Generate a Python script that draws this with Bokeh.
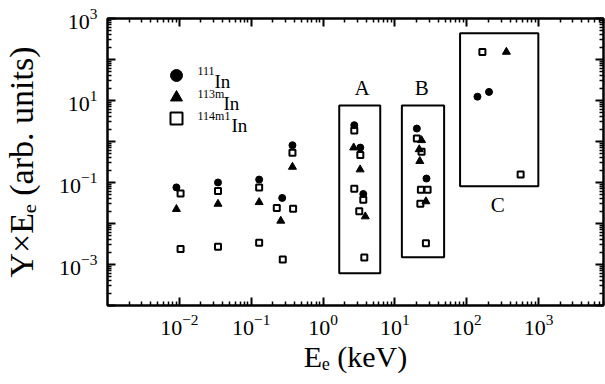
from bokeh.plotting import figure
from bokeh.models import (LogAxis, FixedTicker, Legend, LegendItem, Label, Range1d,
                          ColumnDataSource)
from bokeh.core.properties import value
from bokeh.embed import file_html
from bokeh.resources import INLINE

# ---------------- data ----------------
in111_x = [0.0091, 0.0345, 0.129, 0.27, 0.375, 2.72, 3.30, 3.63, 20.2, 27.5, 141, 204]
in111_y = [0.076, 0.10, 0.118, 0.042, 0.81, 2.50, 0.71, 0.0525, 2.07, 0.125, 12.4, 16.2]

in113m_x = [0.0091, 0.0345, 0.129, 0.258, 0.375, 2.67, 3.28, 3.87, 23.5, 21.8, 22.2, 27.0, 356]
in113m_y = [0.0224, 0.030, 0.033, 0.0116, 0.24, 0.71, 0.207, 0.0148, 1.07, 0.643, 0.332, 0.0345, 153]

in114m1_x = [0.0104, 0.0104, 0.0345, 0.0345, 0.129, 0.129, 0.227, 0.383, 0.275, 0.375,
             2.72, 3.30, 2.72, 3.63, 3.19, 3.75,
             20.2, 23.5, 23.0, 28.5, 22.6, 27.0,
             165, 562]
in114m1_y = [0.054, 0.0024, 0.062, 0.0027, 0.075, 0.0034, 0.024, 0.023, 0.00133, 0.53,
             1.85, 0.466, 0.0708, 0.038, 0.020, 0.00149,
             1.18, 0.565, 0.067, 0.067, 0.0303, 0.00328,
             153, 0.156]

box_names = ["A", "B", "C"]
box_left = [1.68, 12.5, 80.7]
box_right = [6.25, 48.4, 991]
box_bottom = [6.14e-4, 1.51e-3, 0.0813]
box_top = [7.55, 7.55, 438]
box_label_x = [3.48, 23.7, 270]
box_label_y = [20.7, 20.7, 0.0275]

legend_sup = ["111", "113m", "114m1"]
legend_base = ["In", "In", "In"]

x_major = [1e-2, 1e-1, 1e0, 1e1, 1e2, 1e3]
y_major = [1e-4, 1e-3, 1e-2, 1e-1, 1e0, 1e1, 1e2, 1e3]
y_blank = [1e-4, 1e-2, 1e0, 1e2]

x_title = "E\u2091 (keV)"
y_title = "Y\u00d7E\u2091 (arb. units)"

SERIF = "Liberation Serif"

# ---------------- figure ----------------
p = figure(width=605, height=384, x_axis_type="log", y_axis_type="log",
           x_range=Range1d(1e-3, 8000), y_range=Range1d(1e-4, 1e3),
           output_backend="svg", toolbar_location=None)
p.min_border_left = 106
p.min_border_right = 2
p.min_border_top = 18
p.min_border_bottom = 79
p.grid.visible = False
p.outline_line_color = "black"
p.outline_line_width = 2
p.background_fill_color = "white"
p.border_fill_color = "white"


def minors(lo, hi):
    out = []
    for e in range(lo, hi + 1):
        for k in range(2, 10):
            out.append(k * 10.0 ** e)
    return out


xt = FixedTicker(ticks=x_major, minor_ticks=minors(-3, 3))
yt = FixedTicker(ticks=y_major, minor_ticks=minors(-4, 2))


def style_axis(ax, labels=True):
    ax.axis_line_width = 2
    ax.axis_line_color = "black"
    ax.major_tick_in = 8
    ax.major_tick_out = 0
    ax.minor_tick_in = 4
    ax.minor_tick_out = 0
    ax.major_tick_line_width = 2
    ax.minor_tick_line_width = 1.5
    if labels:
        ax.major_label_text_font = SERIF
        ax.major_label_text_font_size = "22px"
        ax.major_label_text_color = "black"
        ax.axis_label_text_font = SERIF
        ax.axis_label_text_font_style = "normal"
        ax.axis_label_text_color = "black"
    else:
        ax.major_label_text_font_size = "1px"
        ax.major_label_text_alpha = 0
        ax.major_label_standoff = 0


xa = p.xaxis[0]
xa.ticker = xt
style_axis(xa)
xa.major_label_standoff = 9
xa.axis_label = x_title
xa.axis_label_text_font_size = "30px"
xa.axis_label_standoff = 2

ya = p.yaxis[0]
ya.ticker = yt
style_axis(ya)
ya.major_label_standoff = 10
ya.major_label_overrides = {v: " " for v in y_blank}
ya.axis_label = y_title
ya.axis_label_text_font_size = "34px"
ya.axis_label_standoff = 16

top_ax = LogAxis(ticker=xt)
style_axis(top_ax, labels=False)
p.add_layout(top_ax, "above")
right_ax = LogAxis(ticker=yt)
style_axis(right_ax, labels=False)
p.add_layout(right_ax, "right")

# ---------------- boxes ----------------
p.quad(left=box_left, right=box_right, bottom=box_bottom, top=box_top,
       fill_alpha=0, line_color="black", line_width=2)
box_src = ColumnDataSource(dict(x=box_label_x, y=box_label_y, t=box_names))
p.text(x="x", y="y", text="t", source=box_src, text_font=value(SERIF),
       text_font_size="21px", text_align="center", text_baseline="middle",
       text_color="black")

# ---------------- data points ----------------
r_sq = p.scatter(in114m1_x, in114m1_y, marker="square", size=6, fill_alpha=0,
                 line_color="black", line_width=2)
r_c = p.scatter(in111_x, in111_y, marker="circle", size=7, color="black")
r_t = p.scatter(in113m_x, in113m_y, marker="triangle", size=8, color="black")

# one legend per key so the keys can be large yet close together
key_locs = [(54, 215), (54, 193), (54, 172)]
for r, loc in zip([r_c, r_t, r_sq], key_locs):
    lg = Legend(items=[LegendItem(label="\u00a0", renderers=[r])],
                location=loc, glyph_width=30, glyph_height=30,
                label_height=30, label_width=1, label_standoff=0,
                padding=0, margin=0, border_line_alpha=0, background_fill_alpha=0,
                label_text_font_size="6px")
    p.add_layout(lg)

# legend texts (screen units, relative to the plot frame)
sup_pos = [(90, 235), (90, 211.7), (90, 190)]
base_pos = [(107, 224.3), (116, 202.3), (124, 180)]
for s, (sx, sy) in zip(legend_sup, sup_pos):
    p.add_layout(Label(x=sx, y=sy, x_units="screen", y_units="screen", text=s,
                       text_font=SERIF, text_font_size="12px", text_color="black",
                       text_baseline="alphabetic", text_align="left"))
for s, (sx, sy) in zip(legend_base, base_pos):
    p.add_layout(Label(x=sx, y=sy, x_units="screen", y_units="screen", text=s,
                       text_font=SERIF, text_font_size="19px", text_color="black",
                       text_baseline="alphabetic", text_align="left"))

open("out.html", "w").write(file_html(p, INLINE))
